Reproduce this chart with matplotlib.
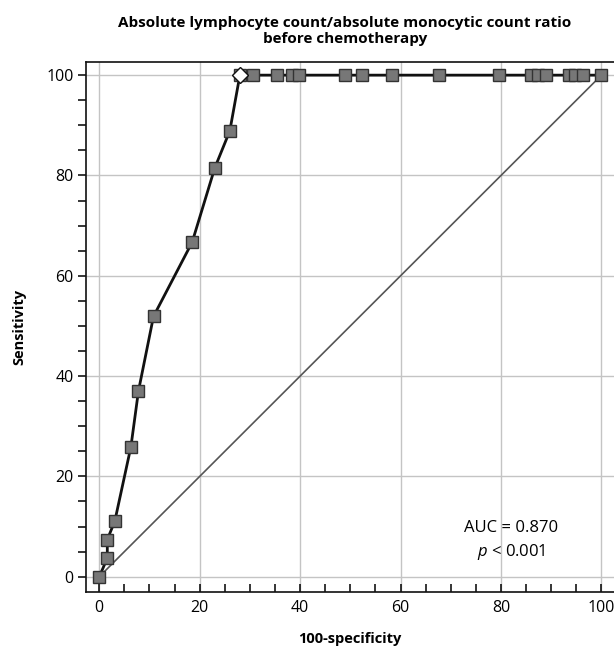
import numpy as np
import matplotlib.pyplot as plt
from matplotlib.ticker import MultipleLocator

plt.rcParams['font.family'] = ['Open Sans', 'DejaVu Sans']
plt.rcParams['mathtext.fontset'] = 'custom'
plt.rcParams['mathtext.it'] = 'Open Sans:italic'
plt.rcParams['mathtext.rm'] = 'Open Sans'

# ROC points
fpr = [0, 1.6, 1.6, 3.1, 6.3, 7.8, 10.8, 18.5, 23.0, 26.0, 28.0, 30.7, 35.3,
       38.3, 39.8, 48.9, 52.3, 58.2, 67.7, 79.6, 86.0, 87.3, 89.0, 93.6, 94.8,
       96.4, 100]
tpr = [0, 3.7, 7.4, 11.1, 25.9, 37.0, 51.9, 66.7, 81.5, 88.9] + [100] * 17
best = (28.0, 100)
diag = [0, 100]

fig = plt.figure(figsize=(6.14, 6.47), dpi=100)
ax = fig.add_axes([0.140, 0.085, 0.86, 0.819])

ax.plot(diag, diag, color='#555555', lw=1.2, zorder=2)
ax.plot(fpr, tpr, color='#111111', lw=2, marker='s', markersize=8.5,
        markerfacecolor='#777777', markeredgecolor='#333333', markeredgewidth=1,
        zorder=3)
ax.plot(best[0], best[1], marker='D', markersize=8, markerfacecolor='white',
        markeredgecolor='#111111', markeredgewidth=1, zorder=4)

ax.set_xlim(-2.65, 102.5)
ax.set_ylim(-3.05, 102.6)
ax.xaxis.set_major_locator(MultipleLocator(20))
ax.xaxis.set_minor_locator(MultipleLocator(5))
ax.yaxis.set_major_locator(MultipleLocator(20))
ax.yaxis.set_minor_locator(MultipleLocator(5))
ax.grid(True, which='major', color='#c4c4c4', lw=1)
ax.set_axisbelow(True)
ax.spines['right'].set_visible(False)
for s in ['left', 'bottom', 'top']:
    ax.spines[s].set_linewidth(1.2)
    ax.spines[s].set_color('#111111')

ax.tick_params(axis='x', which='both', direction='in', length=6, width=1.1,
               labelsize=11.5, pad=6)
ax.tick_params(axis='y', which='both', direction='out', length=6, width=1.1,
               labelsize=11.5, pad=3)

ax.set_xlabel('100-specificity', fontsize=10.5, fontweight='bold', labelpad=11)
ax.set_ylabel('Sensitivity', fontsize=10.5, fontweight='bold', labelpad=14)
fig.text(345 / 614, 1 - 31 / 647,
         'Absolute lymphocyte count/absolute monocytic count ratio\nbefore chemotherapy',
         ha='center', va='center', fontsize=11, fontweight='bold', linespacing=1.15)

ax.text(82, 9.7, 'AUC = 0.870', ha='center', va='center', fontsize=12)
ax.text(82, 4.9, r'$\mathit{p}$ < 0.001', ha='center', va='center', fontsize=12)

fig.savefig('out.png', dpi=100)
